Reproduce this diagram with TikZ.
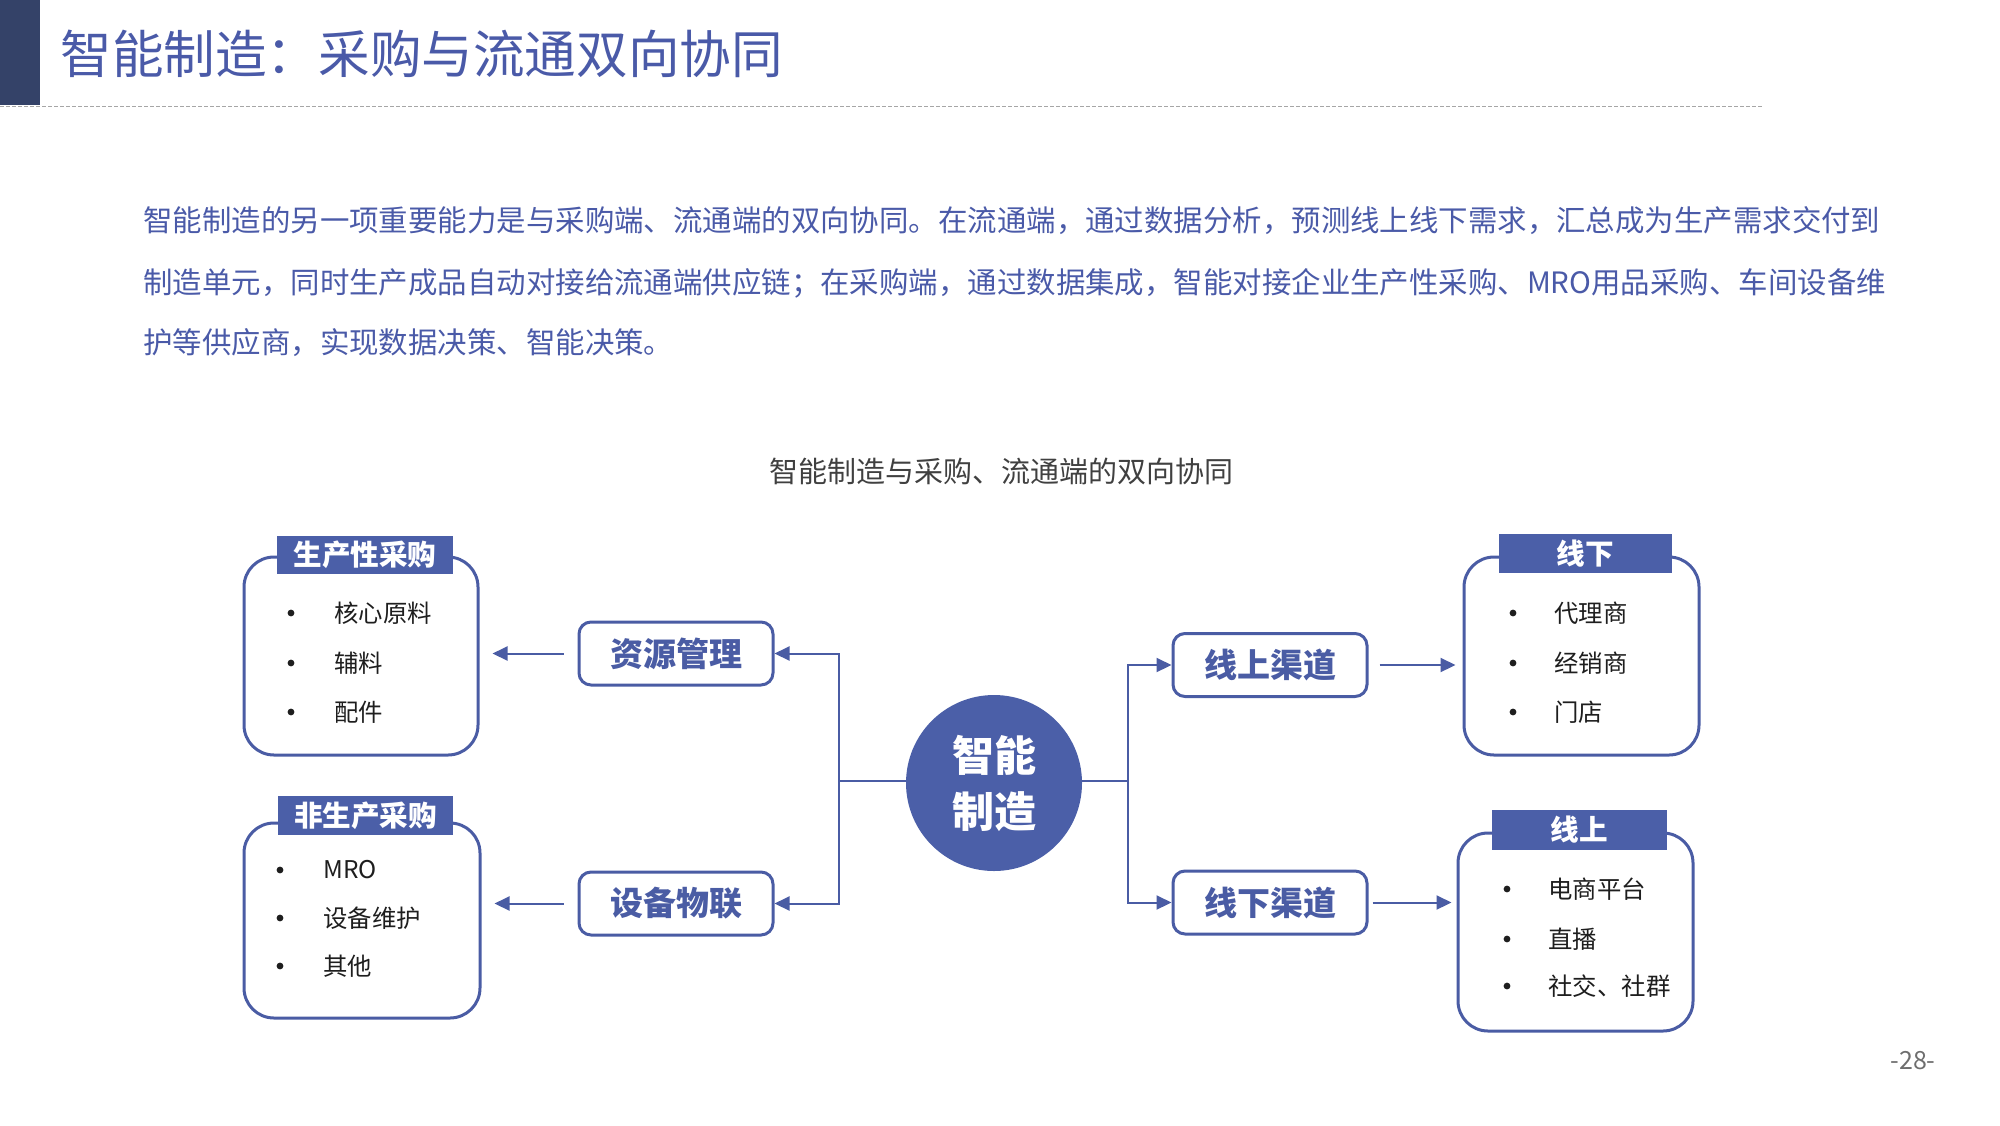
\documentclass[tikz,border=0pt]{standalone}
\usepackage{fontspec}
\setmainfont{Noto Sans CJK SC}
\usetikzlibrary{arrows.meta,positioning}
\definecolor{navy}{RGB}{52,66,104}
\definecolor{mainblue}{RGB}{74,92,164}
\definecolor{hdrblue}{RGB}{75,95,168}
\definecolor{txtblue}{RGB}{74,90,168}
\definecolor{darktxt}{RGB}{64,64,64}
\definecolor{itemtxt}{RGB}{30,30,30}
\definecolor{pggray}{RGB}{110,110,110}
\tikzset{
  grp/.style={draw=mainblue, line width=1.5pt, rounded corners=15pt, fill=white, inner sep=0pt},
  hdr/.style={fill=hdrblue, text=white, font=\bfseries\fontsize{14.3}{16}\selectfont, inner sep=0pt},
  chan/.style={draw=mainblue, line width=1.5pt, rounded corners=6pt, fill=white, text=mainblue,
    font=\bfseries\fontsize{16.5}{18}\selectfont, minimum width=97pt, minimum height=31.5pt, inner sep=0pt},
  item/.style={anchor=west, inner sep=0pt, text=itemtxt, font=\fontsize{12.2}{14}\selectfont},
  bul/.style={circle, fill=itemtxt, inner sep=0pt, minimum size=3.4pt},
  arr/.style={draw=mainblue, line width=1pt, -{Triangle[length=7.5pt,width=7pt]}},
  con/.style={draw=mainblue, line width=1pt},
  para/.style={anchor=west, inner sep=0pt, text=txtblue, font=\fontsize{14.72}{16}\selectfont}
}
\begin{document}
\begin{tikzpicture}[x=0.5pt,y=-0.5pt]
\useasboundingbox (0,0) rectangle (2000,1125);
% header
\fill[navy] (0,0) rectangle (40,105);
\node[anchor=west, inner sep=0pt, text=txtblue, font=\fontsize{25.8}{28}\selectfont] (title) at (60,54) {智能制造：采购与流通双向协同};
\draw[gray!70, line width=0.5pt, dash pattern=on 2pt off 1pt] (0,106) -- (1763,106);
% paragraph
\node[para] (p1) at (143,221) {智能制造的另一项重要能力是与采购端、流通端的双向协同。在流通端，通过数据分析，预测线上线下需求，汇总成为生产需求交付到};
\node[para] (p2) at (143,283) {制造单元，同时生产成品自动对接给流通端供应链；在采购端，通过数据集成，智能对接企业生产性采购、MRO用品采购、车间设备维};
\node[para] (p3) at (143,343) {护等供应商，实现数据决策、智能决策。};
% diagram title
\node[inner sep=0pt, text=darktxt, font=\fontsize{14.5}{16}\selectfont] (dtitle) at (1001,471) {智能制造与采购、流通端的双向协同};
% group boxes
\node[grp, minimum width=117pt, minimum height=99pt] (lt) at (361,656) {};
\node[hdr, minimum width=88pt, minimum height=19pt] (lth) at (365,555) {生产性采购};
\node[grp, minimum width=118pt, minimum height=97.5pt] (lb) at (362,920.5) {};
\node[hdr, minimum width=87.5pt, minimum height=19.5pt] (lbh) at (365.5,815.5) {非生产采购};
\node[grp, minimum width=117.5pt, minimum height=99pt] (rt) at (1581.5,656) {};
\node[hdr, minimum width=86.5pt, minimum height=19.5pt] (rth) at (1585.5,553.5) {线下};
\node[grp, minimum width=117.5pt, minimum height=99pt] (rb) at (1575.5,932) {};
\node[hdr, minimum width=87.5pt, minimum height=20pt] (rbh) at (1579.5,830) {线上};
% items LT
\node[bul] (b1) at (291,613) {}; \node[item] (i1) at (334,613) {核心原料};
\node[bul] (b2) at (291,663) {}; \node[item] (i2) at (334,663) {辅料};
\node[bul] (b3) at (291,712) {}; \node[item] (i3) at (334,712) {配件};
% items LB
\node[bul] (b4) at (280,870) {}; \node[item] (i4) at (323,870) {MRO};
\node[bul] (b5) at (280,918) {}; \node[item] (i5) at (323,918) {设备维护};
\node[bul] (b6) at (280,966) {}; \node[item] (i6) at (323,966) {其他};
% items RT
\node[bul] (b7) at (1513,613) {}; \node[item] (i7) at (1554,613) {代理商};
\node[bul] (b8) at (1513,663) {}; \node[item] (i8) at (1554,663) {经销商};
\node[bul] (b9) at (1513,712) {}; \node[item] (i9) at (1554,712) {门店};
% items RB
\node[bul] (b10) at (1507,889) {}; \node[item] (i10) at (1548,889) {电商平台};
\node[bul] (b11) at (1507,939) {}; \node[item] (i11) at (1548,939) {直播};
\node[bul] (b12) at (1507,986) {}; \node[item] (i12) at (1548,986) {社交、社群};
% channel boxes
\node[chan] (zy) at (676,653.5) {资源管理};
\node[chan] (sb) at (676,903.5) {设备物联};
\node[chan] (xs) at (1270,665) {线上渠道};
\node[chan] (xx) at (1270,902.5) {线下渠道};
% center circle
\node[circle, fill=hdrblue, minimum size=88pt, inner sep=0pt, text=white, align=center,
  font=\bfseries\fontsize{21}{28}\selectfont] (c) at (994,783) {智能\\制造};
% connectors
\coordinate (jl) at (839,781);
\coordinate (jr) at (1128,781);
\draw[con] (c.west |- jl) -- (jl);
\draw[arr] (jl) |- (zy.east);
\draw[arr] (jl) |- (sb.east);
\draw[con] (c.east |- jr) -- (jr);
\draw[arr] (jr) |- (xs.west);
\draw[arr] (jr) |- (xx.west);
\draw[arr] ([xshift=-7pt]zy.west) -- ([xshift=6.5pt]lt.east |- zy.west);
\draw[arr] ([xshift=-7pt]sb.west) -- ([xshift=6.5pt]lb.east |- sb.west);
\draw[arr] ([xshift=5.5pt]xs.east) -- ([xshift=-3.5pt]rt.west |- xs.east);
\draw[arr] ([xshift=2pt]xx.east) -- ([xshift=-2.5pt]rb.west |- xx.east);
% page number
\node[inner sep=0pt, text=pggray, font=\fontsize{12.5}{14}\selectfont] (pg) at (1913,1061) {-28-};
\end{tikzpicture}
\end{document}
